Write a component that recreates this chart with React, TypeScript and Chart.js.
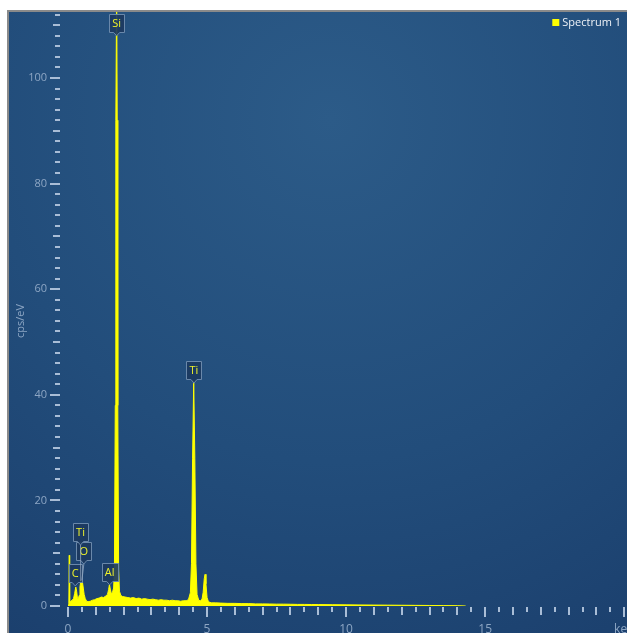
import React, { useEffect, useRef } from "react";
import { Chart, registerables } from "chart.js";

Chart.register(...registerables);

// ---------- data ----------
const energyKeV = [
  0.0, 0.03, 0.045, 0.06, 0.1, 0.15, 0.2, 0.24, 0.28, 0.31, 0.34, 0.37, 0.4, 0.43, 0.46, 0.49, 0.52, 0.55, 0.58,
  0.62, 0.67, 0.72, 0.8, 0.88, 0.96, 1.04, 1.12, 1.2, 1.28, 1.36, 1.42, 1.46, 1.49, 1.52, 1.56, 1.6, 1.64, 1.67,
  1.7, 1.72, 1.75, 1.77, 1.79, 1.82, 1.85, 1.9, 1.96, 2.05, 2.15, 2.25, 2.35, 2.45, 2.55, 2.65, 2.75, 2.85, 2.95,
  3.05, 3.15, 3.25, 3.35, 3.45, 3.55, 3.65, 3.75, 3.85, 3.95, 4.05, 4.15, 4.25, 4.33, 4.4, 4.44, 4.48, 4.52, 4.56,
  4.6, 4.64, 4.7, 4.76, 4.82, 4.86, 4.9, 4.93, 4.96, 5.0, 5.05, 5.15, 5.3, 5.5, 5.75, 6.0, 6.25, 6.5, 6.75, 7.0,
  7.25, 7.5, 7.75, 8.0, 8.25, 8.5, 8.75, 9.0, 9.5, 10.0, 10.5, 11.0, 11.5, 12.0, 12.5, 13.0, 13.5, 14.0, 14.3,
];
const countsPerEv = [
  0.2, 0.4, 9.6, 0.7, 0.9, 1.1, 1.4, 2.4, 3.6, 2.8, 1.5, 1.3, 2.0, 3.6, 4.7, 4.9, 4.5, 3.4, 2.2,
  1.4, 0.9, 0.8, 0.9, 1.1, 1.2, 1.4, 1.5, 1.7, 1.6, 1.9, 2.2, 3.1, 4.1, 3.2, 2.3, 2.6, 3.4, 7,
  38, 92, 118, 92, 38, 7, 2.8, 2.0, 1.8, 1.7, 1.6, 1.5, 1.6, 1.4, 1.5, 1.3, 1.4, 1.3, 1.2,
  1.3, 1.2, 1.1, 1.2, 1.1, 1.1, 1.0, 1.1, 1.0, 1.0, 0.9, 1.0, 1.0, 1.2, 2.5, 8, 28, 42.5, 28,
  8, 2.2, 1.1, 1.0, 1.3, 2.6, 5.2, 6.0, 4.2, 1.6, 0.8, 0.6, 0.6, 0.55, 0.5, 0.5, 0.45, 0.45, 0.4, 0.4,
  0.38, 0.35, 0.35, 0.33, 0.3, 0.3, 0.28, 0.27, 0.25, 0.22, 0.2, 0.18, 0.16, 0.14, 0.12, 0.1, 0.08, 0.06, 0.0,
];

const seriesName = "Spectrum 1";
const xAxisUnit = "keV";
const yAxisTitle = "cps/eV";
const xMajorTicks = [0, 5, 10, 15];
const yMajorTicks = [0, 20, 40, 60, 80, 100];

// peak labels
const peakNames = ["C", "Al", "O", "Ti", "Si", "Ti"];
const peakLabelEnergy = [0.26, 1.5, 0.57, 0.45, 1.75, 4.53];
const peakLabelAnchor = [3.8, 4.0, 7.95, 11.55, 108, 42.2];
const peakEnergy = [0.28, 1.49, 0.5, 0.46, 1.75, 4.52];
const peakValue = [3.6, 4.1, 4.9, 4.7, 112, 42.5];

const FONT = "'Open Sans', 'Noto Sans', sans-serif";
const TICK_COLOR = "#8da6c4";
const MARK_COLOR = "#a9bdd6";
const SERIES_COLOR = "#ffff00";

const App: React.FC = () => {
  const ref = useRef<HTMLCanvasElement | null>(null);

  useEffect(() => {
    if (!ref.current) return;

    const panelPlugin = {
      id: "panel",
      beforeDraw(chart: any) {
        const { ctx } = chart;
        const W = ctx.canvas.width;
        const H = ctx.canvas.height;
        ctx.save();
        ctx.fillStyle = "#ffffff";
        ctx.fillRect(0, 0, W, H);
        ctx.fillStyle = "#8a8a8a";
        ctx.fillRect(7, 10, W + 10, H + 10);
        const g = ctx.createRadialGradient(330, 120, 0, 330, 120, 620);
        g.addColorStop(0, "#2c5b88");
        g.addColorStop(0.55, "#224d7b");
        g.addColorStop(1, "#1b3f6d");
        ctx.fillStyle = g;
        ctx.fillRect(9, 12, W + 10, H + 10);
        ctx.restore();
      },
      afterDraw(chart: any) {
        const { ctx } = chart;
        const xs = chart.scales.x;
        const ys = chart.scales.y;
        ctx.save();
        ctx.fillStyle = MARK_COLOR;
        for (let v = 0; v <= 112; v += 2) {
          const y = Math.round(ys.getPixelForValue(v));
          const len = v % 20 === 0 ? 10 : v % 10 === 0 ? 7 : 5;
          ctx.fillRect(60 - len, y - 1, len, 2);
        }
        for (let i = 0; i <= 40; i++) {
          const e = i * 0.5;
          const x = Math.round(xs.getPixelForValue(e));
          const len = e % 5 === 0 ? 10 : Number.isInteger(e) ? 8 : 5;
          ctx.fillRect(x - 1, 607, 2, len);
        }
        // y axis title
        ctx.save();
        ctx.fillStyle = TICK_COLOR;
        ctx.font = `11px ${FONT}`;
        ctx.textAlign = "center";
        ctx.textBaseline = "middle";
        ctx.translate(21, 321);
        ctx.rotate(-Math.PI / 2);
        ctx.fillText(yAxisTitle, 0, 0);
        ctx.restore();
        // legend (top right)
        ctx.font = `11px ${FONT}`;
        ctx.textAlign = "left";
        ctx.textBaseline = "middle";
        const tw = ctx.measureText(seriesName).width;
        const tx = chart.chartArea.right - 6 - tw;
        ctx.fillStyle = "#eef2f7";
        ctx.fillText(seriesName, tx, 22.5);
        ctx.fillStyle = SERIES_COLOR;
        ctx.fillRect(tx - 10, 19, 7, 7);
        ctx.restore();
      },
      afterDatasetsDraw(chart: any) {
        const { ctx } = chart;
        const xs = chart.scales.x;
        const ys = chart.scales.y;
        ctx.save();
        ctx.font = `11px ${FONT}`;
        ctx.textAlign = "center";
        ctx.textBaseline = "middle";
        for (let i = 0; i < peakNames.length; i++) {
          const cx = xs.getPixelForValue(peakLabelEnergy[i]);
          const tip = ys.getPixelForValue(peakLabelAnchor[i]);
          const px = xs.getPixelForValue(peakEnergy[i]);
          const py = Math.max(ys.getPixelForValue(peakValue[i]), 12);
          if (py - tip > 3) {
            ctx.strokeStyle = "rgba(150,170,195,0.8)";
            ctx.lineWidth = 1;
            ctx.beginPath();
            ctx.moveTo(cx, tip);
            ctx.lineTo(px, py);
            ctx.stroke();
          }
          const w = Math.round(ctx.measureText(peakNames[i]).width + 6);
          const h = 18;
          const bottom = tip - 4;
          const left = Math.round(cx - w / 2) + 0.5;
          const top = Math.round(bottom - h) + 0.5;
          const b = top + h;
          ctx.beginPath();
          ctx.moveTo(left, top);
          ctx.lineTo(left + w, top);
          ctx.lineTo(left + w, b);
          ctx.lineTo(cx + 3, b);
          ctx.lineTo(cx, tip);
          ctx.lineTo(cx - 3, b);
          ctx.lineTo(left, b);
          ctx.closePath();
          ctx.fillStyle = "rgba(28,58,96,0.92)";
          ctx.fill();
          ctx.strokeStyle = "#6a88aa";
          ctx.lineWidth = 1;
          ctx.stroke();
          ctx.fillStyle = "#eef22a";
          ctx.fillText(peakNames[i], cx, top + h / 2 + 0.5);
        }
        ctx.restore();
      },
    };

    const chart = new Chart(ref.current, {
      type: "line",
      data: {
        datasets: [
          {
            label: seriesName,
            data: energyKeV.map((e, i) => ({ x: e, y: countsPerEv[i] })),
            borderColor: SERIES_COLOR,
            backgroundColor: SERIES_COLOR,
            borderWidth: 1,
            pointRadius: 0,
            tension: 0,
            fill: "origin",
          },
        ],
      },
      options: {
        animation: false,
        responsive: false,
        devicePixelRatio: 1,
        layout: { padding: { left: 0, top: 12, right: 0, bottom: 0 } },
        plugins: {
          tooltip: { enabled: false },
          legend: { display: false },
        },
        scales: {
          x: {
            type: "linear",
            min: 0,
            max: 20.1,
            grid: { display: false, drawTicks: false },
            border: { display: false },
            afterBuildTicks(scale: any) {
              scale.ticks = [...xMajorTicks, 20].map((v) => ({ value: v }));
            },
            ticks: {
              autoSkip: false,
              maxRotation: 0,
              padding: 16,
              color: TICK_COLOR,
              font: { family: FONT, size: 12 },
              callback: (v: any) => (v === 20 ? xAxisUnit : String(v)),
            },
            afterFit(scale: any) {
              scale.height = 27;
              scale.paddingLeft = 0;
              scale.paddingRight = 0;
            },
          },
          y: {
            type: "linear",
            min: 0,
            max: 112.5,
            grid: { display: false, drawTicks: false },
            border: { display: false },
            afterBuildTicks(scale: any) {
              scale.ticks = yMajorTicks.map((v) => ({ value: v }));
            },
            ticks: {
              padding: 21,
              color: TICK_COLOR,
              font: { family: FONT, size: 11 },
            },
            afterFit(scale: any) {
              scale.width = 68;
              scale.paddingTop = 0;
              scale.paddingBottom = 0;
            },
          },
        },
      },
      plugins: [panelPlugin],
    });

    return () => chart.destroy();
  }, []);

  return (
    <div style={{ position: "fixed", left: 0, top: 0, width: 627, height: 633 }}>
      <canvas ref={ref} width={627} height={633} style={{ display: "block" }} />
    </div>
  );
};

export default App;
